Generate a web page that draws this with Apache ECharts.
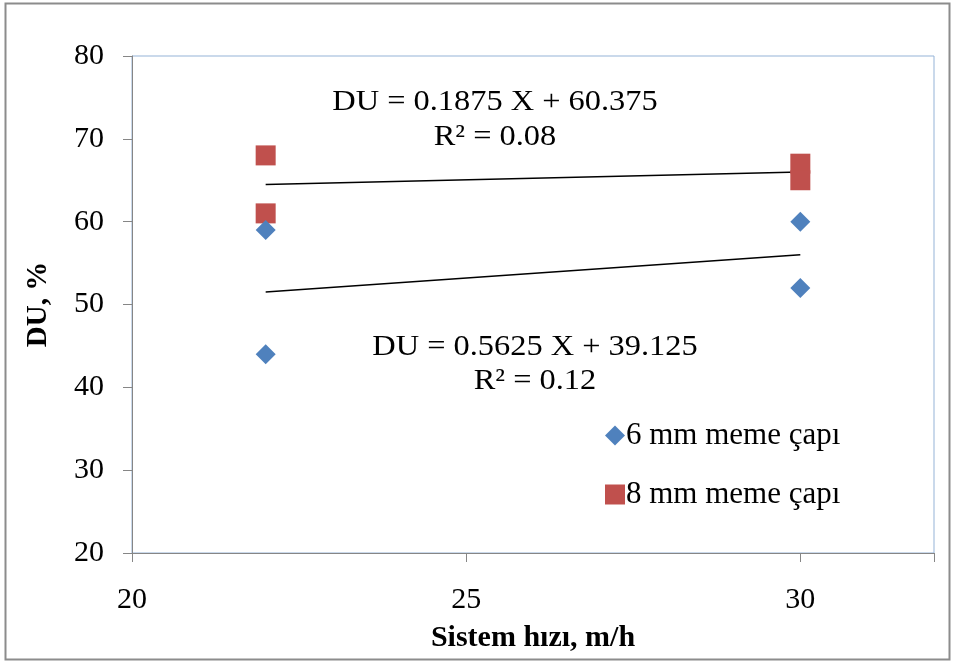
<!DOCTYPE html>
<html lang="tr">
	<head>
		<meta charset="UTF-8">
		<title></title>
		<style type="text/css">
			html,
			body,
			.canvas {
				padding: 0;
				margin: 0;
				background-color: #fff;
				width: 955px;
				height: 661px;
			}
		</style>
	</head>
	<body>
		<div class="canvas" id="chart"></div>
		<script type="text/javascript" src="https://cdn.jsdelivr.net/npm/echarts@6/dist/echarts.min.js"></script>
		<script>
			// measured points (system speed, DU %)
			const speed6 = [22, 22, 30, 30]
			const du6 = [59, 44, 60, 52]
			const speed8 = [22, 22, 30, 30]
			const du8 = [68, 61, 67, 65]
			// trend line ends
			const trendX = [22, 30]
			const trend6 = [51.5, 56]
			const trend8 = [64.5, 66]
			const xTicks = [20, 25, 30]
			const yTicks = [20, 30, 40, 50, 60, 70, 80]

			const serif = 'Liberation Serif'
			const pairs = (xs, ys) => xs.map((x, i) => [x, ys[i]])
			// the original text is a bit wider than Liberation Serif
			const note = (text, x, y) => ({
				type: 'text', x: x, y: y, scaleX: 1.08,
				style: { text: text, font: '30px "Liberation Serif"', fill: '#000', align: 'center' }
			})

			const chart = echarts.init(document.getElementById('chart'))
			chart.setOption({
				animation: false,
				grid: {
					left: 132,
					right: 21,
					top: 56,
					bottom: 108,
					show: true,
					borderColor: '#95B3D7',
					borderWidth: 1
				},
				xAxis: {
					type: 'value',
					min: 20,
					max: 32,
					interval: 5,
					name: 'Sistem hızı, m/h',
					nameLocation: 'middle',
					nameGap: 70,
					nameTextStyle: { fontFamily: serif, fontWeight: 'bold', fontSize: 30, color: '#000' },
					axisLine: { lineStyle: { color: '#868686' } },
					axisTick: { show: true, length: 9, lineStyle: { color: '#868686' } },
					axisLabel: {
						fontFamily: serif, fontSize: 30, color: '#000', margin: 32,
						formatter: v => xTicks.includes(v) ? String(v) : ''
					},
					splitLine: { show: false }
				},
				yAxis: {
					type: 'value',
					min: 20,
					max: 80,
					interval: 10,
					name: 'DU, %',
					nameLocation: 'middle',
					nameGap: 79,
					nameRotate: 90,
					nameTextStyle: { fontFamily: serif, fontWeight: 'bold', fontSize: 29, color: '#000' },
					axisLine: { show: true, lineStyle: { color: '#868686' } },
					axisTick: { show: true, length: 9, lineStyle: { color: '#868686' } },
					axisLabel: {
						fontFamily: serif, fontSize: 30, color: '#000', margin: 28,
						formatter: v => yTicks.includes(v) ? String(v) : ''
					},
					splitLine: { show: false }
				},
				legend: {
					orient: 'vertical',
					left: 600,
					top: 415,
					itemGap: 28,
					itemWidth: 20,
					itemHeight: 20,
					data: [
						{ name: '6 mm meme çapı', icon: 'diamond' },
						{ name: '8 mm meme çapı', icon: 'rect' }
					],
					textStyle: { fontFamily: serif, fontSize: 31, color: '#000', padding: [0, 0, 0, -4] }
				},
				series: [
					{
						name: 'trend8',
						type: 'line',
						data: pairs(trendX, trend8),
						symbol: 'none',
						lineStyle: { color: '#000', width: 1.5 },
						silent: true,
						z: 1
					},
					{
						name: 'trend6',
						type: 'line',
						data: pairs(trendX, trend6),
						symbol: 'none',
						lineStyle: { color: '#000', width: 1.5 },
						silent: true,
						z: 1
					},
					{
						name: '6 mm meme çapı',
						type: 'scatter',
						data: pairs(speed6, du6),
						symbol: 'diamond',
						symbolSize: 20,
						itemStyle: { color: '#4F81BD', opacity: 1 },
						z: 3
					},
					{
						name: '8 mm meme çapı',
						type: 'scatter',
						data: pairs(speed8, du8),
						symbol: 'rect',
						symbolSize: 20,
						itemStyle: { color: '#C0504D', opacity: 1 },
						z: 2
					}
				],
				graphic: [
					{
						type: 'rect',
						shape: { x: 5.5, y: 3.5, width: 944, height: 656 },
						style: { fill: 'none', stroke: '#8c8c8c', lineWidth: 2 },
						silent: true
					},
					note('DU = 0.1875 X + 60.375', 495, 87),
					note('R² = 0.08', 495, 122),
					note('DU = 0.5625 X + 39.125', 535, 332),
					note('R² = 0.12', 535, 366)
				]
			})
		</script>
	</body>
</html>
